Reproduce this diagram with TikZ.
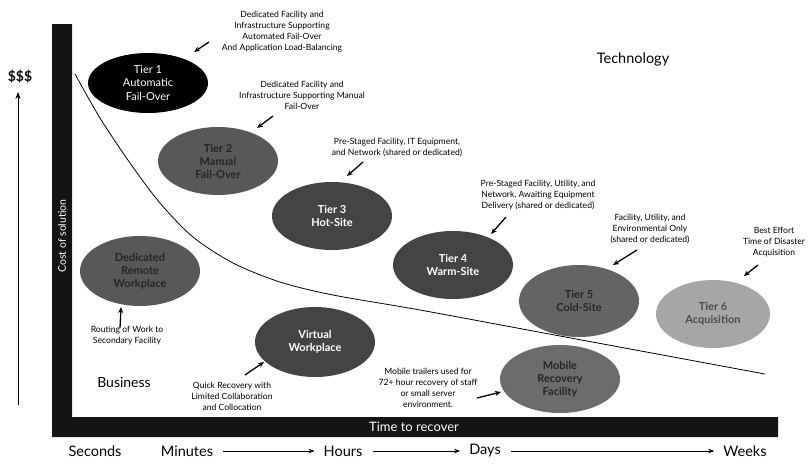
\documentclass[tikz,border=0pt]{standalone}
\usepackage{fontspec}
\setmainfont{Lato}
\usetikzlibrary{shapes.geometric,arrows.meta}
\definecolor{barcol}{HTML}{141414}
\definecolor{fdark}{HTML}{444444}
\definecolor{fmid}{HTML}{585858}
\definecolor{fcold}{HTML}{646464}
\definecolor{fmob}{HTML}{6C6C6C}
\definecolor{flight}{HTML}{A6A6A6}
\definecolor{tdim}{HTML}{262626}
\definecolor{tlight}{HTML}{4C4C4C}
\begin{document}
\begin{tikzpicture}[x=1pt,y=-1pt,
  tier/.style={ellipse, minimum width=120pt, minimum height=68pt, inner sep=0pt, align=center,
    font=\fontsize{11}{13}\selectfont\bfseries},
  note/.style={align=center, inner sep=0pt, font=\fontsize{8.6}{11}\selectfont},
  pointer/.style={line width=1.3pt, -{Stealth[length=6pt,width=5pt]}},
  timearrow/.style={line width=0.6pt, -{Stealth[length=6pt,width=4.5pt]}, shorten <=10pt, shorten >=9pt},
  biglabel/.style={inner sep=0pt, font=\fontsize{14.5}{16}\selectfont},
  barlabel/.style={inner sep=0pt, text=white, font=\fontsize{10.5}{12}\selectfont}]
\useasboundingbox (0,0) rectangle (811,469);
\fill[white] (0,0) rectangle (811,469);

% axes bars
\fill[barcol] (52,24) -- (72,24) -- (72,417) -- (778,417) -- (778,437) -- (52,437) -- cycle;
\node[barlabel, rotate=90] (cost) at (62,236) {Cost of solution};
\node[barlabel, font=\fontsize{13}{14}\selectfont] (ttr) at (414,427) {Time to recover};

% cost arrow and $$$
\coordinate (costlow) at (18,405);
\coordinate (costhigh) at (18,92);
\draw[line width=0.8pt, -{Stealth[length=7pt,width=5pt]}] (costlow) -- (costhigh);
\node[biglabel, font=\fontsize{14}{16}\selectfont\bfseries] (dollar) at (20,77) {\$\$\$};

% curve
\draw[line width=0.8pt] plot[smooth, tension=0.5] coordinates {(75,74) (100,118) (130,163) (160,203) (193,237) (233,263) (280,282) (333,295) (420,310) (560,336) (765,374)};

\node[biglabel] (tech) at (633,59) {Technology};
\node[biglabel, font=\fontsize{14}{16}\selectfont] (bus) at (124,382) {Business};

% ellipses
\node[tier, fill=black, text=white, minimum width=120pt, minimum height=60pt,
  font=\fontsize{11}{13.5}\selectfont] (t1) at (148,83) {Tier 1\\Automatic\\Fail-Over};
\node[tier, fill=fmid, text=tdim] (t2) at (218,161) {Tier 2\\Manual\\Fail-Over};
\node[tier, fill=fdark, text=white] (t3) at (332,216) {Tier 3\\Hot-Site};
\node[tier, fill=fdark, text=white] (t4) at (453,265) {Tier 4\\Warm-Site};
\node[tier, fill=fcold, text=tdim, minimum height=72pt] (t5) at (579,301) {Tier 5\\Cold-Site};
\node[tier, fill=flight, text=tlight, minimum width=114pt] (t6) at (713,314) {Tier 6\\Acquisition};
\node[tier, fill=fmob, text=tdim] (mob) at (560,379) {Mobile\\Recovery\\Facility};
\node[tier, fill=fdark, text=white, minimum height=70pt] (vw) at (315,342) {Virtual\\Workplace};
\node[tier, fill=fmid, text=tdim, minimum height=70pt] (drw) at (140,271) {Dedicated\\Remote\\Workplace};

% annotations
\node[note] (n1) at (282,32) {Dedicated Facility and\\Infrastructure Supporting\\Automated Fail-Over\\And Application Load-Balancing};
\node[note] (n2) at (302,95) {Dedicated Facility and\\Infrastructure Supporting Manual\\Fail-Over};
\node[note] (n3) at (397,147) {Pre-Staged Facility, IT Equipment,\\and Network (shared or dedicated)};
\node[note] (n4) at (538,195) {Pre-Staged Facility, Utility, and\\Network, Awaiting Equipment\\Delivery (shared or dedicated)};
\node[note] (n5) at (650,229) {Facility, Utility, and\\Environmental Only\\(shared or dedicated)};
\node[note] (n6) at (774,242) {Best Effort\\Time of Disaster\\Acquisition};
\node[note] (n7) at (127,336) {Routing of Work to\\Secondary Facility};
\node[note] (n8) at (232,396) {Quick Recovery with\\Limited Collaboration\\and Collocation};
\node[note] (n9) at (428,388) {Mobile trailers used for\\72+ hour recovery of staff\\or small server\\environment.};

% pointer arrows
\coordinate (a1s) at (209,42);  \coordinate (a1e) at (194,52);
\coordinate (a2s) at (273,116); \coordinate (a2e) at (257,128);
\coordinate (a3s) at (363,162); \coordinate (a3e) at (347,176);
\coordinate (a4s) at (506,217); \coordinate (a4e) at (491,234);
\coordinate (a5s) at (637,250); \coordinate (a5e) at (613,265);
\coordinate (a6s) at (758,265); \coordinate (a6e) at (744,276);
\coordinate (a7s) at (120,328); \coordinate (a7e) at (121,307);
\coordinate (a8s) at (245,375); \coordinate (a8e) at (264,362);
\coordinate (a9s) at (477,398); \coordinate (a9e) at (501,392);
\foreach \i in {1,...,9} {\draw[pointer] (a\i s) -- (a\i e);}

% time scale
\node[biglabel] (sec) at (95,451) {Seconds};
\node[biglabel] (min) at (187,451) {Minutes};
\node[biglabel] (hrs) at (343,451) {Hours};
\node[biglabel] (days) at (485,451) {Days};
\node[biglabel] (wks) at (745,451) {Weeks};
\draw[timearrow] (min) -- (hrs);
\draw[timearrow] (hrs) -- (days);
\draw[timearrow] (days) -- (wks);
\end{tikzpicture}
\end{document}
